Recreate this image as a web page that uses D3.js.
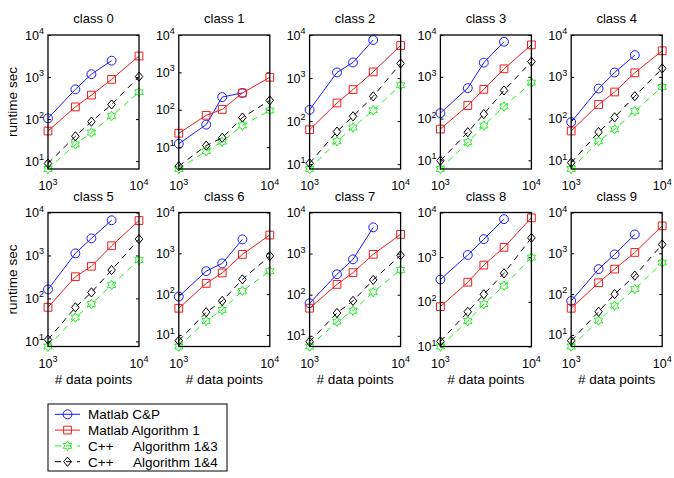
<!DOCTYPE html>
<html>
<head>
<meta charset="utf-8">
<script src="https://cdn.jsdelivr.net/npm/d3@7"></script>
<style>
  body { margin: 0; background: #fff; }
  svg { font-family: "Liberation Sans", Arial, sans-serif; }
</style>
</head>
<body>
<div id="plot"></div>
<script>
// x values (number of data points)
const sizes = [1000, 2000, 3000, 5000, 10000];
const classNames = ['class 0', 'class 1', 'class 2', 'class 3', 'class 4',
                    'class 5', 'class 6', 'class 7', 'class 8', 'class 9'];

// runtimes per class (Matlab C&P has no 10^4 run)
const matlabCP = [
    [104, 510, 1170, 2450],
    [12.3, 40, 218, 283],
    [182, 1350, 2300, 7650],
    [135, 535, 2180, 6900],
    [83, 525, 1270, 3300],
    [162, 1120, 2500, 6600],
    [87, 365, 565, 2190],
    [62, 314, 725, 4350],
    [316, 1120, 2530, 7100],
    [68, 410, 940, 2900]
];
const matlabAlg1 = [
    [52, 195, 372, 880, 3160],
    [23.5, 71, 102, 280, 740],
    [63, 263, 540, 1390, 5700],
    [56, 205, 500, 1550, 5800],
    [51, 219, 435, 1250, 4200],
    [62, 320, 560, 1680, 6500],
    [45, 183, 330, 940, 2800],
    [47, 178, 345, 960, 2930],
    [78, 275, 665, 1660, 7600],
    [45, 190, 410, 1050, 4700]
];
const cppAlg13 = [
    [6.5, 25, 48, 118, 436],
    [2.6, 7.8, 14, 38, 96],
    [7.7, 34, 71, 178, 680],
    [6.2, 27, 68, 195, 725],
    [6.3, 29, 56, 152, 575],
    [7.6, 36, 74, 205, 780],
    [5.2, 22, 41, 120, 365],
    [5.5, 22, 41, 115, 400],
    [10, 37, 89, 230, 980],
    [5.2, 22.5, 52, 133, 590]
];
const cppAlg14 = [
    [8.8, 39, 87, 223, 1020],
    [3.1, 11, 17.8, 62, 178],
    [10.5, 57, 129, 375, 2180],
    [9.8, 47, 128, 470, 2300],
    [8.9, 48, 108, 345, 1590],
    [11, 62, 138, 457, 2400],
    [7.2, 36, 68, 230, 860],
    [7.2, 36, 71, 229, 910],
    [13, 60, 148, 435, 2700],
    [7.2, 37, 100, 283, 1650]
];
const seriesNames = ['Matlab C&P', 'Matlab Algorithm 1', 'C++\tAlgorithm 1&3', 'C++\tAlgorithm 1&4'];
const yTickValues = [10, 100, 1000, 10000];

// hexagram marker (matlab 'h'), size = outer radius
const symbolHexagram = {
    draw(context, r) {
        let ri = r / Math.sqrt(3);
        for (let k = 0; k < 12; k++) {
            let a = -Math.PI / 2 + k * Math.PI / 6;
            let rr = k % 2 == 0 ? r : ri;
            if (k == 0) context.moveTo(rr * Math.cos(a), rr * Math.sin(a));
            else context.lineTo(rr * Math.cos(a), rr * Math.sin(a));
        }
        context.closePath();
    }
};
// matlab style diamond, size = half height
const symbolDiam = {
    draw(context, r) {
        let w = r * 0.82;
        context.moveTo(0, -r);
        context.lineTo(w, 0);
        context.lineTo(0, r);
        context.lineTo(-w, 0);
        context.closePath();
    }
};

const styles = [
    { color: '#1a1aff', dash: null, symbol: d3.symbolCircle, size: 62 },
    { color: '#f01c1c', dash: null, symbol: d3.symbolSquare, size: 60 },
    { color: '#22ee22', dash: '6,5', symbol: symbolHexagram, size: 4.8 },
    { color: '#000000', dash: '6,5', symbol: symbolDiam, size: 4.6 }
];

let svg = d3.select('#plot').append('svg')
    .attr('width', 674)
    .attr('height', 478);

const panelW = 91, panelH = 134;
const rowTops = [35, 212.5];

function supLabel(g, x, y, base, exp, anchor) {
    let t = g.append('text')
        .attr('x', x)
        .attr('y', y)
        .attr('text-anchor', anchor)
        .attr('font-size', 12.5);
    t.append('tspan').text(base);
    t.append('tspan').attr('dy', -5.5).attr('font-size', 9).text(exp);
}

classNames.forEach(function (name, i) {
    let row = Math.floor(i / 5);
    let col = i % 5;
    let left = 48 + col * 130.8;
    let top = rowTops[row];
    let series = [matlabCP[i], matlabAlg1[i], cppAlg13[i], cppAlg14[i]];
    let ymin = d3.min(series, s => d3.min(s));

    let x = d3.scaleLog().domain([1000, 10000]).range([left, left + panelW]);
    let y = d3.scaleLog().domain([ymin, 10000]).range([top + panelH, top]);

    let g = svg.append('g').attr('class', 'panel');

    // ticks pointing inwards on both sides
    let ticks = yTickValues.filter(v => v >= ymin * 0.999);
    g.append('g')
        .attr('transform', `translate(${left},0)`)
        .call(d3.axisLeft(y).tickValues(ticks).tickSize(-3).tickFormat(''))
        .call(a => a.select('.domain').remove());
    g.append('g')
        .attr('transform', `translate(${left + panelW},0)`)
        .call(d3.axisRight(y).tickValues(ticks).tickSize(-3).tickFormat(''))
        .call(a => a.select('.domain').remove());

    // tick labels as 10^k
    ticks.forEach(function (v) {
        supLabel(g, left - 4, y(v) + 4.5, '10', Math.round(Math.log10(v)), 'end');
    });
    [1000, 10000].forEach(function (v) {
        supLabel(g, x(v), top + panelH + 21, '10', Math.round(Math.log10(v)), 'middle');
    });

    // title
    g.append('text')
        .attr('x', left + panelW / 2)
        .attr('y', top - 12)
        .attr('text-anchor', 'middle')
        .attr('font-size', 13)
        .text(name);

    // lines and markers
    series.forEach(function (vals, s) {
        let pts = vals.map((v, k) => ({ n: sizes[k], t: v }));
        let line = d3.line()
            .x(d => x(d.n))
            .y(d => y(d.t));
        g.append('path')
            .attr('d', line(pts))
            .attr('fill', 'none')
            .attr('stroke', styles[s].color)
            .attr('stroke-width', 1)
            .attr('stroke-dasharray', styles[s].dash);
        g.selectAll(null)
            .data(pts)
            .enter()
            .append('path')
            .attr('transform', d => `translate(${x(d.n)},${y(d.t)})`)
            .attr('d', d3.symbol().type(styles[s].symbol).size(styles[s].size))
            .attr('fill', 'none')
            .attr('stroke', styles[s].color)
            .attr('stroke-width', 1);
    });

    // axes box
    g.append('rect')
        .attr('x', left)
        .attr('y', top)
        .attr('width', panelW)
        .attr('height', panelH)
        .attr('fill', 'none')
        .attr('stroke', 'black')
        .attr('stroke-width', 1.3);

    // axis labels on the outer panels
    if (col == 0) {
        g.append('text')
            .attr('transform', `translate(17,${top + panelH / 2}) rotate(-90)`)
            .attr('text-anchor', 'middle')
            .attr('font-size', 13.5)
            .text('runtime sec');
    }
    if (row == 1) {
        g.append('text')
            .attr('x', left + panelW / 2)
            .attr('y', top + panelH + 37)
            .attr('text-anchor', 'middle')
            .attr('font-size', 13.5)
            .text('# data points');
    }
});

// legend
let legend = svg.append('g').attr('class', 'legend');
legend.append('rect')
    .attr('x', 48)
    .attr('y', 404)
    .attr('width', 179)
    .attr('height', 67)
    .attr('fill', 'white')
    .attr('stroke', 'black')
    .attr('stroke-width', 1);
seriesNames.forEach(function (label, s) {
    let cy = 414.3 + s * 15.8;
    legend.append('line')
        .attr('x1', 55).attr('x2', 80)
        .attr('y1', cy).attr('y2', cy)
        .attr('stroke', styles[s].color)
        .attr('stroke-width', 1)
        .attr('stroke-dasharray', styles[s].dash);
    legend.append('path')
        .attr('transform', `translate(67.5,${cy})`)
        .attr('d', d3.symbol().type(styles[s].symbol).size(styles[s].size))
        .attr('fill', 'none')
        .attr('stroke', styles[s].color);
    let parts = label.split('\t');
    legend.append('text')
        .attr('x', 88)
        .attr('y', cy + 5)
        .attr('font-size', 13.5)
        .text(parts[0]);
    if (parts.length > 1) {
        legend.append('text')
            .attr('x', 133)
            .attr('y', cy + 5)
            .attr('font-size', 13.5)
            .text(parts[1]);
    }
});
</script>
</body>
</html>
